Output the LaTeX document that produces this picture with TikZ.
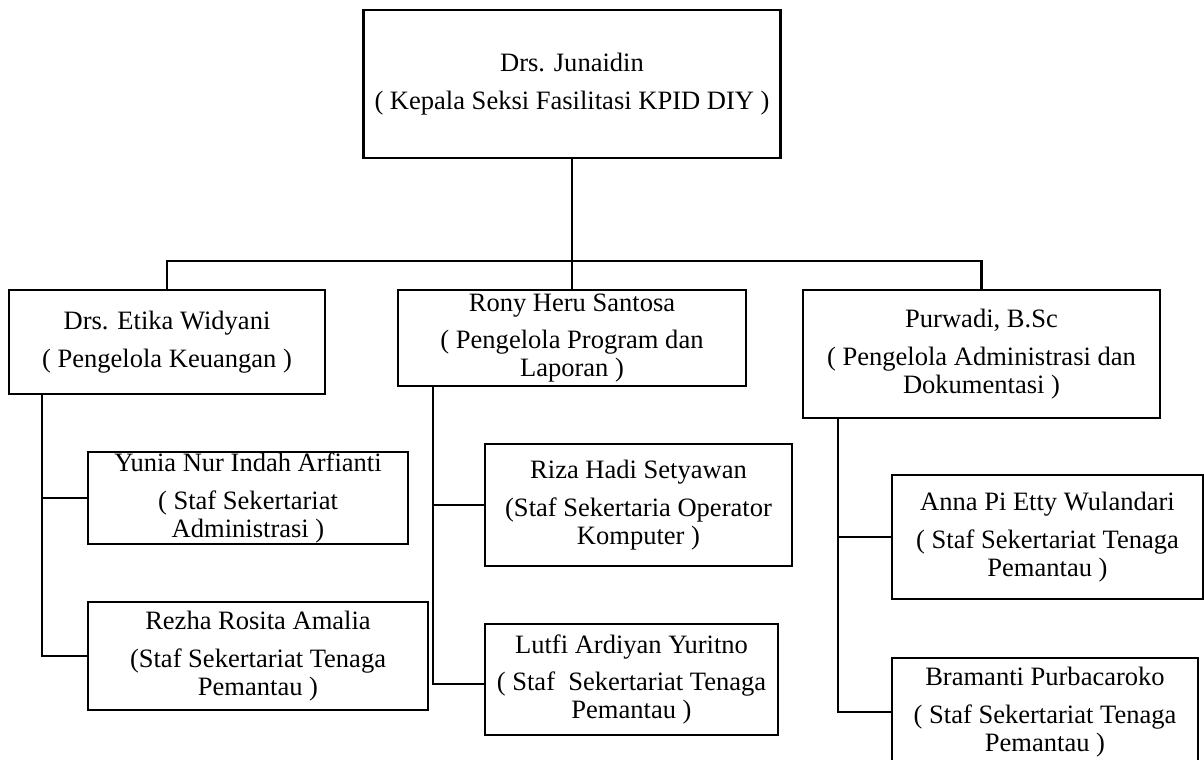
\documentclass[tikz,border=0pt]{standalone}
\usepackage{fontspec}
\setmainfont{Liberation Serif}
\begin{document}
\begin{tikzpicture}[x=0.75pt,y=-0.75pt,
  box/.style={draw, line width=1.8pt, rectangle, inner sep=0pt, align=center,
    font=\fontsize{19.9}{21}\selectfont},
  link/.style={line width=1.8pt}]
\clip (0,0) rectangle (1204,760);
\fill[white] (0,0) rectangle (1204,760);
% boxes
\node[box, minimum width=417*0.75pt, minimum height=148*0.75pt] (top) at (572,84)
  {Drs. Junaidin\\[8pt]( Kepala Seksi Fasilitasi KPID DIY )};
\node[box, minimum width=316*0.75pt, minimum height=104*0.75pt] (etika) at (167,342)
  {Drs. Etika Widyani\\[8pt]( Pengelola Keuangan )};
\node[box, minimum width=348*0.75pt, minimum height=96*0.75pt] (rony) at (572,338)
  {Rony Heru Santosa\\[7pt]( Pengelola Program dan\\Laporan )};
\node[box, minimum width=357*0.75pt, minimum height=128*0.75pt] (purwadi) at (981.5,354)
  {Purwadi, B.Sc\\[7pt]( Pengelola Administrasi dan\\Dokumentasi )};
\node[box, minimum width=320*0.75pt, minimum height=92*0.75pt] (yunia) at (248,498)
  {Yunia Nur Indah Arfianti\\[7pt]( Staf Sekertariat\\Administrasi )};
\node[box, minimum width=340*0.75pt, minimum height=108*0.75pt] (rezha) at (258,656)
  {Rezha Rosita Amalia\\[7pt](Staf Sekertariat Tenaga\\Pemantau )};
\node[box, minimum width=307*0.75pt, minimum height=122*0.75pt] (riza) at (638.5,505)
  {Riza Hadi Setyawan\\[7pt](Staf Sekertaria Operator\\Komputer )};
\node[box, minimum width=293*0.75pt, minimum height=111*0.75pt] (lutfi) at (631.5,679.5)
  {Lutfi Ardiyan Yuritno\\[7pt]( Staf\ \ Sekertariat Tenaga\\Pemantau )};
\node[box, minimum width=311*0.75pt, minimum height=124*0.75pt] (anna) at (1047.5,537)
  {Anna Pi Etty Wulandari\\[7pt]( Staf Sekertariat Tenaga\\Pemantau )};
\node[box, minimum width=306*0.75pt, minimum height=108*0.75pt] (bram) at (1045,712)
  {Bramanti Purbacaroko\\[7pt]( Staf Sekertariat Tenaga\\Pemantau )};
% connectors
\coordinate (hl) at (167,261);
\coordinate (ls) at (42,394);
\coordinate (ms) at (433,386);
\coordinate (lc) at (485,684);
\coordinate (rs) at (838,418);
\draw[link] (top.south) -- (rony.north);
\draw[link] (etika.north) -- (hl) -| (purwadi.north);
\draw[link] (ls) |- (rezha.west);
\draw[link] (ls |- yunia.west) -- (yunia.west);
\draw[link] (ms) |- (lc);
\draw[link] (ms |- riza.west) -- (riza.west);
\draw[link] (rs) |- (bram.west);
\draw[link] (rs |- anna.west) -- (anna.west);
\end{tikzpicture}
\end{document}
